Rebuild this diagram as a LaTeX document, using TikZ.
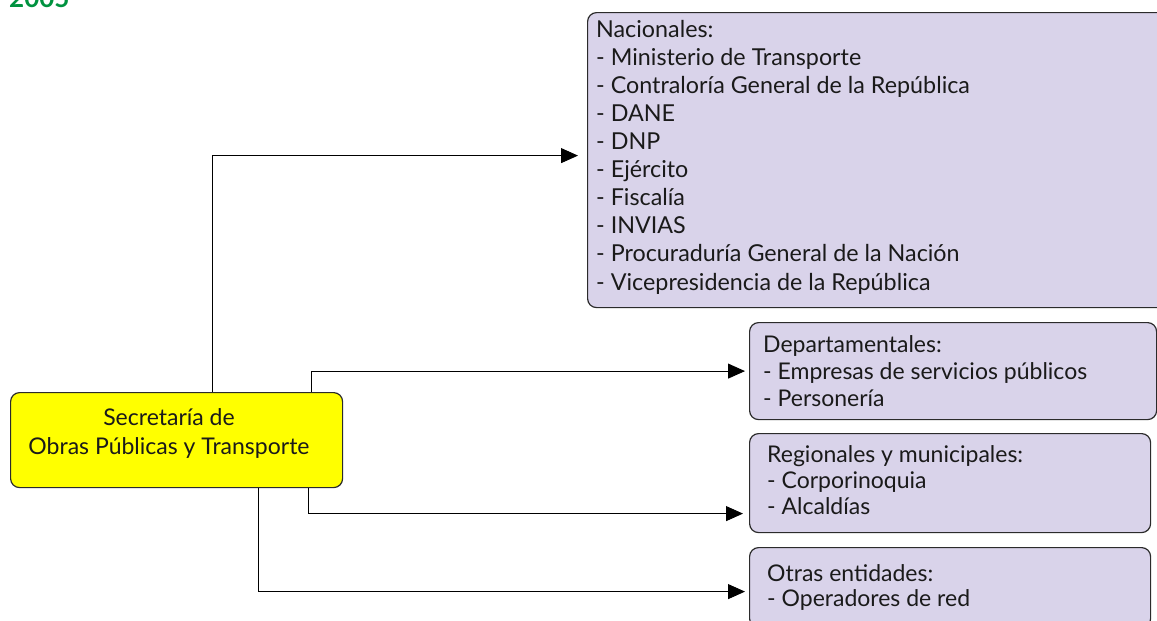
\documentclass[tikz,border=0pt]{standalone}
\usepackage{fontspec}
\setmainfont{Lato}
\usetikzlibrary{arrows.meta,calc}
\definecolor{lav}{HTML}{D9D3EA}
\definecolor{ylw}{HTML}{FFFF00}
\definecolor{grn}{HTML}{00923F}
\definecolor{edgec}{HTML}{2B2B2B}
\definecolor{txtc}{HTML}{1A1A1A}
\begin{document}
\begin{tikzpicture}[x=1pt,y=-1pt,
  box/.style={draw=edgec,line width=1.2pt,rounded corners=9pt,anchor=north west,inner sep=0pt},
  txt/.style={anchor=base west,inner sep=0pt,align=left,text=txtc},
  conn/.style={line width=0.9pt,draw=black},
  arr/.style={conn,-{Triangle[length=17pt,width=15pt]}}]
\clip (0,0) rectangle (1157,621);
\node[anchor=base west,inner sep=0pt,text=grn,font=\fontsize{26}{26}\selectfont\bfseries] (yr) at (9,7.5) {2005};
% boxes
\node[box,fill=ylw,minimum width=332pt,minimum height=95pt] (sec) at (10,392) {};
\node[box,fill=lav,minimum width=590pt,minimum height=295pt] (nac) at (587,12) {};
\node[box,fill=lav,minimum width=407pt,minimum height=97pt] (dep) at (749,322) {};
\node[box,fill=lav,minimum width=401pt,minimum height=99pt] (reg) at (749,433) {};
\node[box,fill=lav,minimum width=401pt,minimum height=80pt] (otr) at (749,547) {};
% texts (anchor base = baseline of last line)
\node[anchor=base,inner sep=0pt,align=center,text=txtc,font=\fontsize{23}{29}\selectfont] (sect) at (169,454) {Secretaría de\\Obras Públicas y Transporte};
\node[txt,font=\fontsize{23.3}{28.1}\selectfont] (nact) at (596,290) {Nacionales:\\- Ministerio de Transporte\\- Contraloría General de la República\\- DANE\\- DNP\\- Ejército\\- Fiscalía\\- INVIAS\\- Procuraduría General de la Nación\\- Vicepresidencia de la República};
\node[txt,font=\fontsize{23}{27}\selectfont] (dept) at (763,406) {Departamentales:\\- Empresas de servicios públicos\\- Personería};
\node[txt,font=\fontsize{23}{26}\selectfont] (regt) at (767,514) {Regionales y municipales:\\- Corporinoquia\\- Alcaldías};
\node[txt,font=\fontsize{23}{25}\selectfont] (otrt) at (767,606) {Otras entidades:\\- Operadores de red};
% connectors
\draw[arr] ($(sec.north west)+(202,0)$) |- ($(nac.west)+(-9,-4.5)$);
\draw[arr] ($(sec.north west)+(301,0)$) |- ($(dep.west)+(-4,0)$);
\draw[arr] ($(sec.south west)+(298,0)$) |- ($(reg.west)+(-6,30.5)$);
\draw[arr] ($(sec.south west)+(248,0)$) |- ($(otr.west)+(-4,4)$);
\end{tikzpicture}
\end{document}
